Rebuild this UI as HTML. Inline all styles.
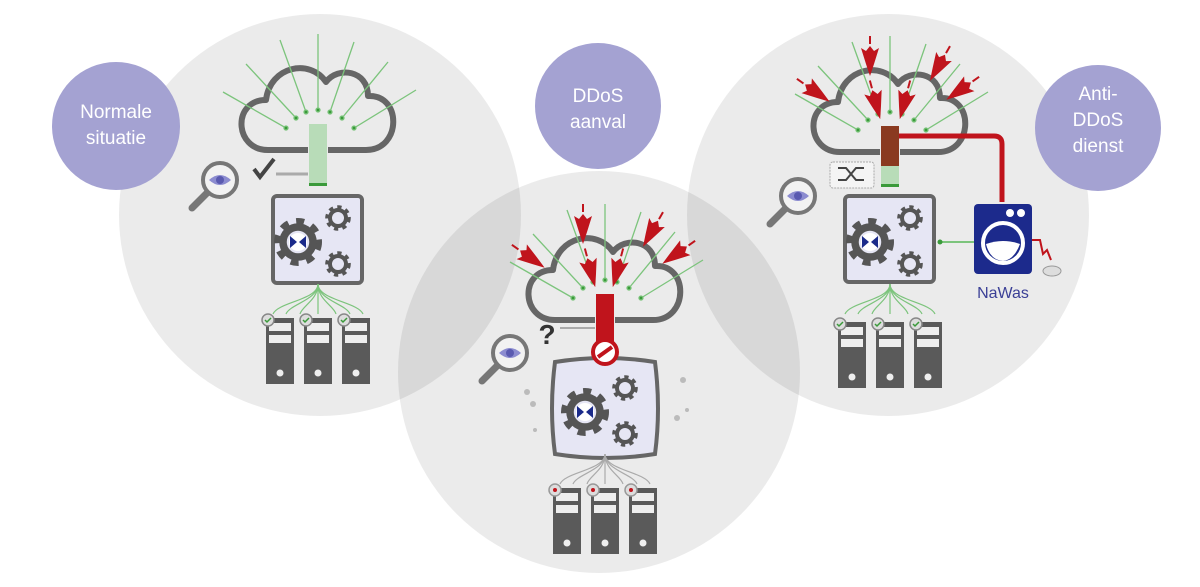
<!DOCTYPE html>
<html><head><meta charset="utf-8"><style>
html,body{margin:0;padding:0;background:#fff;width:1200px;height:587px;overflow:hidden}
svg{display:block}
</style></head><body>
<svg width="1200" height="587" viewBox="0 0 1200 587" xmlns="http://www.w3.org/2000/svg">
<defs>
  <g id="cloud">
    <path d="M-10,88 H-50 C-84,88 -86,38 -52,38 C-48,4 -8,-4 8,20 C20,4 50,8 50,34 C84,32 84,88 48,88 H10" fill="none" stroke="#666" stroke-width="6" stroke-linejoin="round"/>
  </g>
  <g id="glines" stroke="#7cc47c" stroke-width="1.3" fill="#3a9a3a">
    <line x1="-95" y1="30" x2="-32" y2="66"/><circle cx="-32" cy="66" r="2"/>
    <line x1="-72" y1="2" x2="-22" y2="56"/><circle cx="-22" cy="56" r="2"/>
    <line x1="-38" y1="-22" x2="-12" y2="50"/><circle cx="-12" cy="50" r="2"/>
    <line x1="0" y1="-28" x2="0" y2="48"/><circle cx="0" cy="48" r="2"/>
    <line x1="36" y1="-20" x2="12" y2="50"/><circle cx="12" cy="50" r="2"/>
    <line x1="70" y1="0" x2="24" y2="56"/><circle cx="24" cy="56" r="2"/>
    <line x1="98" y1="28" x2="36" y2="66"/><circle cx="36" cy="66" r="2"/>
  </g>
  <g id="gear">
    <circle r="13" fill="none" stroke="#555" stroke-width="6" stroke-dasharray="5 5"/>
    <circle r="10" fill="none" stroke="#555" stroke-width="5"/>
  </g>
  <g id="gears">
    <g transform="translate(-20,180) scale(1.5)"><use href="#gear"/></g>
    <circle cx="-20" cy="180" r="9" fill="#fff"/>
    <path d="M-28,174 L-21,180 L-28,186Z M-12,174 L-19,180 L-12,186Z" fill="#1a2a8a"/>
    <g transform="translate(20,156) scale(0.8)"><use href="#gear"/></g>
    <g transform="translate(20,202) scale(0.8)"><use href="#gear"/></g>
  </g>
  <g id="server">
    <rect x="0" y="0" width="28" height="66" fill="#5a5a5a"/>
    <rect x="3" y="5" width="22" height="8" fill="#eee"/>
    <rect x="3" y="17" width="22" height="8" fill="#eee"/>
    <circle cx="14" cy="55" r="3.5" fill="#eee"/>
  </g>
  <g id="servers">
    <use href="#server" x="-52" y="256"/>
    <use href="#server" x="-14" y="256"/>
    <use href="#server" x="24" y="256"/>
  </g>
  <g id="okbadges">
    <circle cx="-50" cy="258" r="6" fill="#ddd" stroke="#888" stroke-width="1.5"/><path d="M-53,258 l2,2 l4,-4" stroke="#3a9a3a" fill="none" stroke-width="1.5"/>
    <circle cx="-12" cy="258" r="6" fill="#ddd" stroke="#888" stroke-width="1.5"/><path d="M-15,258 l2,2 l4,-4" stroke="#3a9a3a" fill="none" stroke-width="1.5"/>
    <circle cx="26" cy="258" r="6" fill="#ddd" stroke="#888" stroke-width="1.5"/><path d="M23,258 l2,2 l4,-4" stroke="#3a9a3a" fill="none" stroke-width="1.5"/>
  </g>
  <g id="fan" fill="none" stroke-width="1.2">
    <path d="M0,222 C0,238 -40,240 -45,252"/>
    <path d="M0,222 C0,238 -28,242 -32,252"/>
    <path d="M0,222 C0,238 -16,244 -18,252"/>
    <path d="M0,222 L0,252"/>
    <path d="M0,222 C0,238 16,244 18,252"/>
    <path d="M0,222 C0,238 28,242 32,252"/>
    <path d="M0,222 C0,238 40,240 45,252"/>
  </g>
  <g id="mag">
    <line x1="-12" y1="12" x2="-28" y2="28" stroke="#777" stroke-width="7" stroke-linecap="round"/>
    <circle r="17" fill="#f2f2f2" stroke="#777" stroke-width="4"/>
    <path d="M-11,0 Q0,-10 11,0 Q0,10 -11,0Z" fill="#8c8cd0"/>
    <circle r="4" fill="#5a5ab0"/>
  </g>
  <g id="rocket">
    <path d="M0,24 L-4,12 L-9,-4 L-4,-1 L0,-6 L4,-1 L9,-4 L4,12Z" fill="#c0141c"/>
    <line x1="0" y1="-8" x2="0" y2="-16" stroke="#c0141c" stroke-width="2"/>
  </g>
</defs>

<!-- big circles -->
<circle cx="320" cy="215" r="201" fill="#000" fill-opacity="0.08"/>
<circle cx="888" cy="215" r="201" fill="#000" fill-opacity="0.08"/>
<circle cx="599" cy="372" r="201" fill="#000" fill-opacity="0.08"/>

<!-- purple label circles -->
<circle cx="116" cy="126" r="64" fill="#a4a2d2"/>
<circle cx="598" cy="106" r="63" fill="#a4a2d2"/>
<circle cx="1098" cy="128" r="63" fill="#a4a2d2"/>
<g font-family="Liberation Sans, sans-serif" font-size="19" fill="#fff" text-anchor="middle">
  <text x="116" y="118">Normale</text><text x="116" y="144">situatie</text>
  <text x="598" y="102">DDoS</text><text x="598" y="128">aanval</text>
  <text x="1098" y="100">Anti-</text><text x="1098" y="126">DDoS</text><text x="1098" y="152">dienst</text>
</g>

<!-- LEFT system -->
<g transform="translate(318,62)">
  <use href="#cloud"/>
  <use href="#glines"/>
  <rect x="-9" y="62" width="18" height="60" fill="#b8dcb8"/>
  <rect x="-9" y="121" width="18" height="3" fill="#3a9a3a"/>
  <rect x="-45" y="134" width="89" height="87" rx="4" fill="#e6e6f4" stroke="#666" stroke-width="4"/>
  <use href="#gears"/>
  <g stroke="#7cc47c"><use href="#fan"/></g>
  <use href="#servers"/>
  <use href="#okbadges"/>
  <line x1="-42" y1="112" x2="-10" y2="112" stroke="#aaa" stroke-width="3"/>
  <path d="M-64,107 l6,8 l14,-18" fill="none" stroke="#444" stroke-width="4"/>
</g>
<use href="#mag" x="220" y="180"/>

<!-- MIDDLE system -->
<g transform="translate(605,232)">
  <use href="#cloud"/>
  <use href="#glines"/>
  <rect x="-9" y="62" width="18" height="50" fill="#c0141c"/>
  <path d="M-50,130 Q0,122 50,130 Q56,177 50,222 Q0,230 -50,222 Q-56,177 -50,130Z" fill="#e6e6f4" stroke="#666" stroke-width="4"/>
  <use href="#gears"/>
  <g stroke="#aaa"><use href="#fan"/></g>
  <use href="#servers"/>
  <g fill="#ddd" stroke="#999" stroke-width="1.5">
    <circle cx="-50" cy="258" r="6"/><circle cx="-12" cy="258" r="6"/><circle cx="26" cy="258" r="6"/>
  </g>
  <g fill="#c0141c"><circle cx="-50" cy="258" r="2"/><circle cx="-12" cy="258" r="2"/><circle cx="26" cy="258" r="2"/></g>
  <circle cx="0" cy="120" r="12" fill="#fff" stroke="#c0141c" stroke-width="4"/>
  <line x1="-7" y1="125" x2="7" y2="115" stroke="#c0141c" stroke-width="4"/>
  <line x1="-45" y1="96" x2="-10" y2="96" stroke="#aaa" stroke-width="2"/>
  <text x="-58" y="112" font-family="Liberation Sans, sans-serif" font-size="28" font-weight="bold" fill="#333" text-anchor="middle">?</text>
  <g fill="#bbb"><circle cx="-72" cy="172" r="3"/><circle cx="-78" cy="160" r="3"/><circle cx="-70" cy="198" r="2"/><circle cx="78" cy="148" r="3"/><circle cx="72" cy="186" r="3"/><circle cx="82" cy="178" r="2"/></g>
  <g transform="translate(-80,22) rotate(-55)"><use href="#rocket"/></g>
  <g transform="translate(-22,-12)"><use href="#rocket"/></g>
  <g transform="translate(-16,32) rotate(-15)"><use href="#rocket"/></g>
  <g transform="translate(14,32) rotate(15)"><use href="#rocket"/></g>
  <g transform="translate(50,-6) rotate(30)"><use href="#rocket"/></g>
  <g transform="translate(77,18) rotate(55)"><use href="#rocket"/></g>
</g>
<use href="#mag" x="510" y="353"/>

<!-- RIGHT system -->
<g transform="translate(890,64)">
  <use href="#cloud"/>
  <use href="#glines"/>
  <rect x="-9" y="62" width="18" height="40" fill="#8a3a20"/>
  <rect x="-9" y="102" width="18" height="20" fill="#b8dcb8"/>
  <rect x="-9" y="120" width="18" height="3" fill="#3a9a3a"/>
  <path d="M9,72 H104 Q112,72 112,80 V138" fill="none" stroke="#c0141c" stroke-width="5"/>
  <rect x="-45" y="132" width="89" height="86" rx="4" fill="#e6e6f4" stroke="#666" stroke-width="4"/>
  <use href="#gears" transform="translate(0,-2)"/>
  <g stroke="#7cc47c"><use href="#fan" transform="translate(0,-2)"/></g>
  <use href="#servers" transform="translate(0,2)"/>
  <use href="#okbadges" transform="translate(0,2)"/>
  <rect x="-60" y="98" width="44" height="26" rx="3" fill="#f4f4f4" stroke="#aaa" stroke-width="1" stroke-dasharray="2 1"/>
  <path d="M-52,104 h8 l10,12 h8 M-52,116 h8 l10,-12 h8" fill="none" stroke="#444" stroke-width="2"/>
  <line x1="50" y1="178" x2="84" y2="178" stroke="#7cc47c" stroke-width="2"/><circle cx="50" cy="178" r="2.5" fill="#3a9a3a"/>
</g>
<use href="#mag" x="798" y="196"/>

<!-- NaWas -->
<rect x="974" y="204" width="58" height="70" rx="4" fill="#1c2a8c"/>
<circle cx="1010" cy="213" r="4" fill="#fff"/><circle cx="1021" cy="213" r="4" fill="#fff"/>
<circle cx="1003" cy="243" r="20" fill="none" stroke="#fff" stroke-width="4"/>
<path d="M986,244 Q1003,238 1020,244 Q1014,260 1003,261 Q990,260 986,244Z" fill="#fff"/>
<path d="M1032,240 h8 l3,14 l4,-4 l4,10" fill="none" stroke="#c0141c" stroke-width="2"/>
<ellipse cx="1052" cy="271" rx="9" ry="5" fill="#ddd" stroke="#999"/>
<text x="1003" y="298" font-family="Liberation Sans, sans-serif" font-size="16" fill="#3a3f96" text-anchor="middle">NaWas</text>

<g transform="translate(890,64)">
  <g transform="translate(-80,24) rotate(-55)"><use href="#rocket"/></g>
  <g transform="translate(-20,-12)"><use href="#rocket"/></g>
  <g transform="translate(-16,32) rotate(-15)"><use href="#rocket"/></g>
  <g transform="translate(16,32) rotate(15)"><use href="#rocket"/></g>
  <g transform="translate(52,-4) rotate(30)"><use href="#rocket"/></g>
  <g transform="translate(76,22) rotate(55)"><use href="#rocket"/></g>
</g>
</svg>
</body></html>
